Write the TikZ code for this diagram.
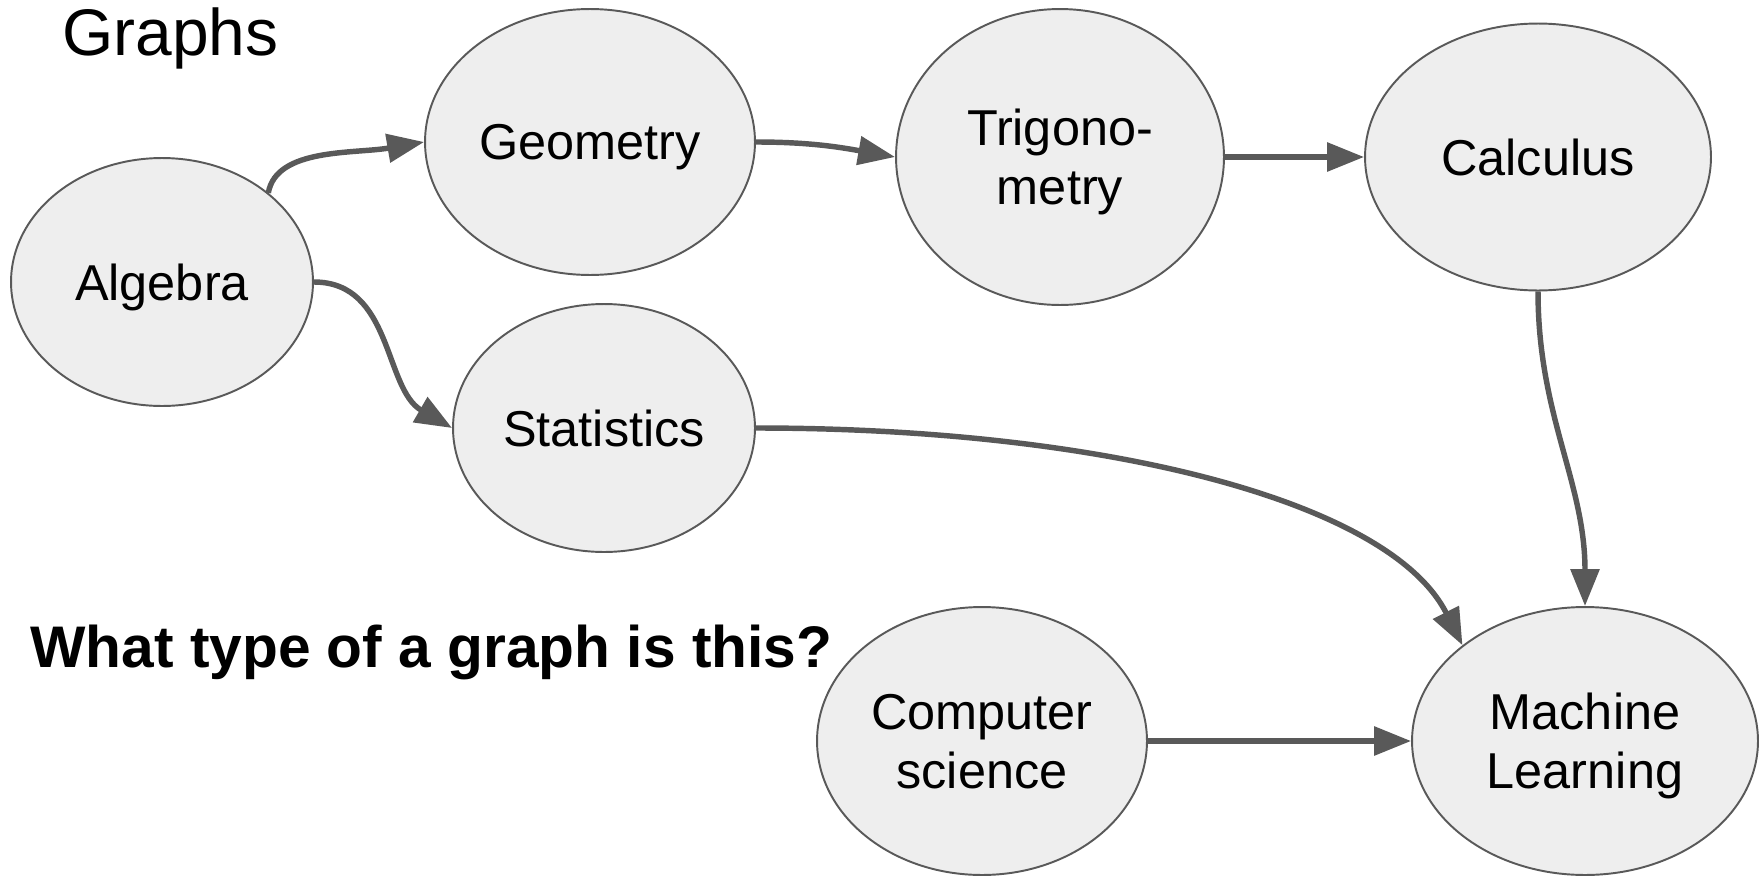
\documentclass[tikz,border=0pt]{standalone}
\usepackage{fontspec}
\setmainfont{Liberation Sans}
\usepackage{tikz}
\usetikzlibrary{shapes,arrows.meta,positioning}

\definecolor{nodefill}{HTML}{EEEEEE}
\definecolor{edgegray}{HTML}{595959}

\begin{document}
\begin{tikzpicture}[x=0.02cm, y=0.02cm,
  topic/.style={ellipse, draw=edgegray, line width=1.1pt, fill=nodefill,
    inner sep=0pt, align=center, font=\fontsize{28.7}{33.7}\selectfont},
  link/.style={draw=edgegray, line width=3.1pt, -{Triangle[length=21pt,width=16pt]}}]
\useasboundingbox (0,0) rectangle (1761,-876);

% Title and question
\node[anchor=base west, inner sep=0pt, font=\fontsize{37.5}{40}\selectfont] (title) at (62,-55) {Graphs};
\node[anchor=base west, inner sep=0pt, font=\fontsize{33.4}{38}\selectfont\bfseries] (question) at (30,-667) {What type of a graph is this?};

% Topics
\node[topic, text depth=0pt, minimum width=6.04cm, minimum height=4.96cm] (alg) at (162,-282) {Algebra};
\node[topic, text depth=0pt, minimum width=6.6cm, minimum height=5.32cm] (geo) at (590,-142) {Geometry};
\node[topic, minimum width=6.56cm, minimum height=5.92cm] (trig) at (1060,-157) {Trigono-\\\smash{metry}};
\node[topic, text depth=0pt, minimum width=6.92cm, minimum height=5.34cm] (calc) at (1538,-157) {Calculus};
\node[topic, text depth=0pt, minimum width=6.04cm, minimum height=4.96cm] (stat) at (604,-428) {Statistics};
\node[topic, minimum width=6.6cm, minimum height=5.36cm] (cs) at (982,-741) {Computer\\\smash{science}};
\node[topic, minimum width=6.92cm, minimum height=5.36cm] (ml) at (1585,-741) {Machine\\\smash{Learning}};

% Links
\draw[link] (alg.40) .. controls +(8,45) and +(-70,-12) .. (geo.west);
\draw[link] (geo.east) to[out=0, in=170] (trig.west);
\draw[link] (trig) -- (calc);
\draw[link] (alg.east) to[out=0, in=150] (stat.west);
\draw[link] (stat.east) .. controls +(345,0) and +(-73,145) .. (ml.142);
\draw[link] (calc.south) to[out=270, in=90] (ml.north);
\draw[link] (cs) -- (ml);
\end{tikzpicture}
\end{document}
